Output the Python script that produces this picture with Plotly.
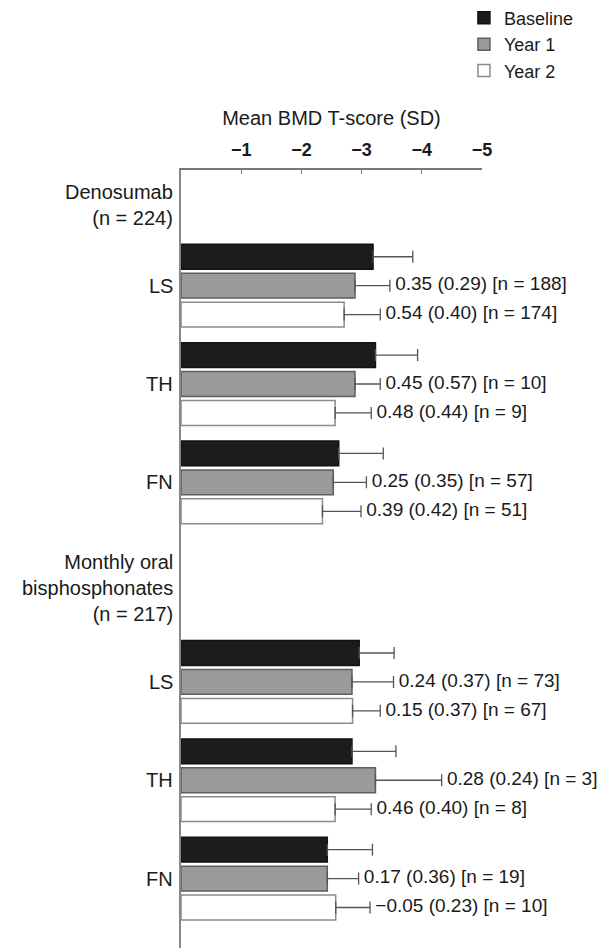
import plotly.graph_objects as go

# ---------------- data ----------------
drugs = ["Denosumab<br>(n = 224)", "Monthly oral<br>bisphosphonates<br>(n = 217)"]
sites = ["LS", "TH", "FN"]
periods = ["Baseline", "Year 1", "Year 2"]

# mean BMD T-score, per drug (rows) and site (cols)
mean_baseline = [[-3.19, -3.23, -2.62], [-2.96, -2.84, -2.43]]
mean_year1 = [[-2.89, -2.89, -2.53], [-2.84, -3.23, -2.43]]
mean_year2 = [[-2.71, -2.56, -2.35], [-2.85, -2.56, -2.57]]

sd_baseline = [[0.66, 0.70, 0.74], [0.58, 0.73, 0.75]]
sd_year1 = [[0.58, 0.42, 0.55], [0.69, 1.10, 0.52]]
sd_year2 = [[0.60, 0.60, 0.64], [0.46, 0.60, 0.57]]

label_year1 = [["0.35 (0.29) [n = 188]", "0.45 (0.57) [n = 10]", "0.25 (0.35) [n = 57]"],
               ["0.24 (0.37) [n = 73]", "0.28 (0.24) [n = 3]", "0.17 (0.36) [n = 19]"]]
label_year2 = [["0.54 (0.40) [n = 174]", "0.48 (0.44) [n = 9]", "0.39 (0.42) [n = 51]"],
               ["0.15 (0.37) [n = 67]", "0.46 (0.40) [n = 8]", "\u22120.05 (0.23) [n = 10]"]]

tick_values = [-1, -2, -3, -4, -5]

# ---------------- layout of rows (slot units) ----------------
FIRST_OFFSET = 3.0
SITE_GAP = 0.4
DRUG_GAP = 4.9

row_pos = []  # row_pos[drug][site][period]
pos = FIRST_OFFSET
for d in range(len(drugs)):
    if d > 0:
        pos += DRUG_GAP
    drug_rows = []
    for s in range(len(sites)):
        if s > 0:
            pos += SITE_GAP + 1
        site_rows = []
        for p in range(len(periods)):
            site_rows.append(pos + p)
        drug_rows.append(site_rows)
        pos = site_rows[-1]
    row_pos.append(drug_rows)
Y_MAX = row_pos[-1][-1][-1] + 1.4

means = [mean_baseline, mean_year1, mean_year2]
sds = [sd_baseline, sd_year1, sd_year2]
fills = ["#1c1c1c", "#9a9a9a", "#ffffff"]
edges = ["#111111", "#5e5e5e", "#8c8c8c"]

FONT = "Liberation Sans, Arial, sans-serif"

fig = go.Figure()
for p, name in enumerate(periods):
    xs, ys, es = [], [], []
    for d in range(len(drugs)):
        for s in range(len(sites)):
            xs.append(means[p][d][s])
            ys.append(row_pos[d][s][p])
            es.append(sds[p][d][s])
    fig.add_trace(go.Bar(
        x=xs, y=ys, orientation="h", name=name, width=0.86,
        marker=dict(color=fills[p], line=dict(color=edges[p], width=1.5)),
        error_x=dict(type="data", symmetric=False, array=[0] * len(es), arrayminus=es,
                     color="#555555", thickness=1.3, width=6),
        hoverinfo="skip",
    ))

# value labels for Year 1 / Year 2
for p, labels in ((1, label_year1), (2, label_year2)):
    tx, ty, tt = [], [], []
    for d in range(len(drugs)):
        for s in range(len(sites)):
            tx.append(means[p][d][s] - sds[p][d][s])
            ty.append(row_pos[d][s][p])
            tt.append(labels[d][s])
    fig.add_trace(go.Scatter(
        x=tx, y=ty, text=tt, mode="text", textposition="middle right",
        texttemplate="\u00a0%{text}",
        textfont=dict(family=FONT, size=19, color="#1a1a1a"),
        cliponaxis=False, showlegend=False, hoverinfo="skip",
    ))

annotations = []
for d, dname in enumerate(drugs):
    for s, sname in enumerate(sites):
        annotations.append(dict(
            x=0, xref="paper", xanchor="right", xshift=-6,
            y=row_pos[d][s][1], yref="y", yanchor="middle",
            text=sname, showarrow=False,
            font=dict(family=FONT, size=20, color="#1a1a1a"),
        ))
    annotations.append(dict(
        x=0, xref="paper", xanchor="right", xshift=-6,
        y=row_pos[d][0][0] - 0.9, yref="y", yanchor="bottom",
        text=dname, showarrow=False, align="right",
        font=dict(family=FONT, size=20, color="#1a1a1a"),
    ))

# the page body adds an 8px offset; the figure is sized to compensate
fig.update_layout(
    width=607, height=940,
    margin=dict(l=173, r=133, t=162, b=0, autoexpand=False),
    paper_bgcolor="white", plot_bgcolor="white",
    barmode="overlay",
    font=dict(family=FONT, color="#1a1a1a"),
    showlegend=True,
    legend=dict(x=0.94, y=1.219, xanchor="left", yanchor="top",
                font=dict(family=FONT, size=18, color="#1a1a1a"),
                bgcolor="rgba(0,0,0,0)", tracegroupgap=0),
    annotations=annotations,
)
fig.update_xaxes(
    side="top", range=[0, -5], tickvals=tick_values,
    showline=True, linecolor="#777777", linewidth=1.5,
    ticks="inside", ticklen=4, tickcolor="#777777",
    ticklabelstandoff=5,
    tickfont=dict(family=FONT, size=18, color="#1a1a1a", weight="bold"),
    showgrid=False, zeroline=False, automargin=False,
    title=dict(text="Mean BMD T-score (SD)", font=dict(family=FONT, size=20, color="#1a1a1a"), standoff=9),
)
fig.update_yaxes(
    range=[Y_MAX, 0], showticklabels=False, ticks="",
    showline=True, linecolor="#888888", linewidth=1.5,
    showgrid=False, zeroline=False, automargin=False,
)

fig.write_html("out.html")
